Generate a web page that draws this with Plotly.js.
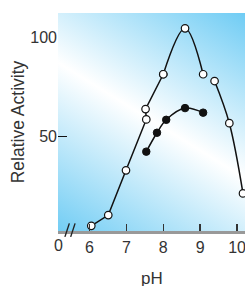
<!DOCTYPE html>
<html>
<head>
<meta charset="utf-8">
<script src="https://cdn.plot.ly/plotly-3.0.1.min.js"></script>
<style>
html,body{margin:0;padding:0;overflow:hidden;background:#fff;}
#chart{width:255px;height:286px;}
</style>
</head>
<body>
<div id="chart"></div>
<script>
// Open circles: rising part (straight segments)
const phRise = [6.05, 6.51, 6.99, 7.54, 7.52, 8.0];
const actRise = [5.1, 10.5, 33.0, 58.6, 63.8, 81.3];
// Open circles: peak (smooth)
const phPeak = [8.0, 8.59, 9.08];
const actPeak = [81.3, 104.4, 81.3];
// Open circles: falling part
const phFall = [9.39, 9.79, 10.16];
const actFall = [77.9, 56.7, 21.4];
// Filled circles
const phFilled = [7.54, 7.83, 8.08, 8.59, 9.08];
const actFilled = [42.4, 51.9, 58.4, 64.3, 62.0];

const xTicks = [6, 7, 8, 9, 10];
const xTickText = ['6', '7', '8', '9', '10'];
const yTicks = [50, 100];
const yTickText = ['50', '100'];
const yMarkedTick = [50];

const xRange = [5.148, 10.35];
const yRange = [2.5, 112.1];

const svg = '<svg xmlns="http://www.w3.org/2000/svg" width="192" height="217" viewBox="0 0 192 217" preserveAspectRatio="none">' +
  '<defs><linearGradient id="g" gradientUnits="userSpaceOnUse" x1="17.5" y1="228" x2="167.4" y2="-15.6">' +
  '<stop offset="0" stop-color="#72cdf4"/>' +
  '<stop offset="0.5" stop-color="#ffffff"/>' +
  '<stop offset="1" stop-color="#6ccbf4"/>' +
  '</linearGradient></defs><rect x="0" y="0" width="192" height="217" fill="url(#g)"/></svg>';
const bgSrc = 'data:image/svg+xml;charset=utf-8,' + encodeURIComponent(svg);

const straightLine = {color: '#111', width: 1.5, shape: 'linear'};
const smoothLine = {color: '#111', width: 1.5, shape: 'spline', smoothing: 1};
const openMarker = {symbol: 'circle', size: 7.5, color: '#fff', line: {color: '#111', width: 1.2}};
const filledMarker = {symbol: 'circle', size: 7.5, color: '#111', line: {color: '#111', width: 1}};

const traces = [
  {x: phRise, y: actRise, mode: 'lines', line: straightLine, cliponaxis: false, hoverinfo: 'skip'},
  {x: phPeak, y: actPeak, mode: 'lines', line: smoothLine, cliponaxis: false, hoverinfo: 'skip'},
  {x: phFall, y: actFall, mode: 'lines', line: smoothLine, cliponaxis: false, hoverinfo: 'skip'},
  {x: phRise, y: actRise, mode: 'markers', marker: openMarker, cliponaxis: false, hoverinfo: 'skip'},
  {x: phPeak, y: actPeak, mode: 'markers', marker: openMarker, cliponaxis: false, hoverinfo: 'skip'},
  {x: phFall, y: actFall, mode: 'markers', marker: openMarker, cliponaxis: false, hoverinfo: 'skip'},
  {x: phFilled, y: actFilled, yaxis: 'y2', mode: 'lines+markers', line: smoothLine, marker: filledMarker, cliponaxis: false, hoverinfo: 'skip'}
];

const fam = 'Liberation Sans, Arial, sans-serif';
const tickFont = {family: fam, size: 16, color: '#333'};
const breakLine = {color: '#222', width: 1.4};

const layout = {
  width: 255, height: 286,
  margin: {l: 58, r: 5, t: 13, b: 55},
  paper_bgcolor: '#ffffff',
  plot_bgcolor: 'rgba(0,0,0,0)',
  showlegend: false,
  xaxis: {
    range: xRange, tickvals: xTicks, ticktext: xTickText,
    ticks: 'inside', ticklen: 7, tickwidth: 1.5, tickcolor: '#333',
    showline: true, linecolor: '#999', linewidth: 3,
    showgrid: false, zeroline: false, tickfont: tickFont
  },
  yaxis: {
    range: yRange, tickvals: yTicks, ticktext: yTickText,
    ticks: '', showline: false, showgrid: false, zeroline: false, tickfont: tickFont,
    title: {text: 'Relative Activity', font: {family: fam, size: 17.5, color: '#333'}, standoff: 1}
  },
  yaxis2: {
    range: yRange, overlaying: 'y', side: 'left', tickvals: yMarkedTick,
    ticks: 'inside', ticklen: 9, tickwidth: 1.2, tickcolor: '#111',
    showticklabels: false, showline: false, showgrid: false, zeroline: false
  },
  images: [{source: bgSrc, xref: 'paper', yref: 'paper', x: 0, y: 1, sizex: 1, sizey: 1,
            xanchor: 'left', yanchor: 'top', sizing: 'stretch', layer: 'below'}],
  shapes: [
    {type: 'line', xref: 'paper', yref: 'paper', x0: 0.036, y0: -0.027, x1: 0.059, y1: 0.035, line: breakLine},
    {type: 'line', xref: 'paper', yref: 'paper', x0: 0.066, y0: -0.027, x1: 0.089, y1: 0.035, line: breakLine}
  ],
  annotations: [
    {text: '0', xref: 'paper', yref: 'paper', x: 0, y: 0, xanchor: 'center', yanchor: 'top', yshift: -4,
     showarrow: false, font: tickFont},
    {text: 'pH', xref: 'paper', yref: 'paper', x: 0.491, y: 0, xanchor: 'center', yanchor: 'middle', yshift: -47,
     showarrow: false, font: {family: fam, size: 17, color: '#333'}}
  ]
};

Plotly.newPlot('chart', traces, layout, {displayModeBar: false, staticPlot: true});
</script>
</body>
</html>
